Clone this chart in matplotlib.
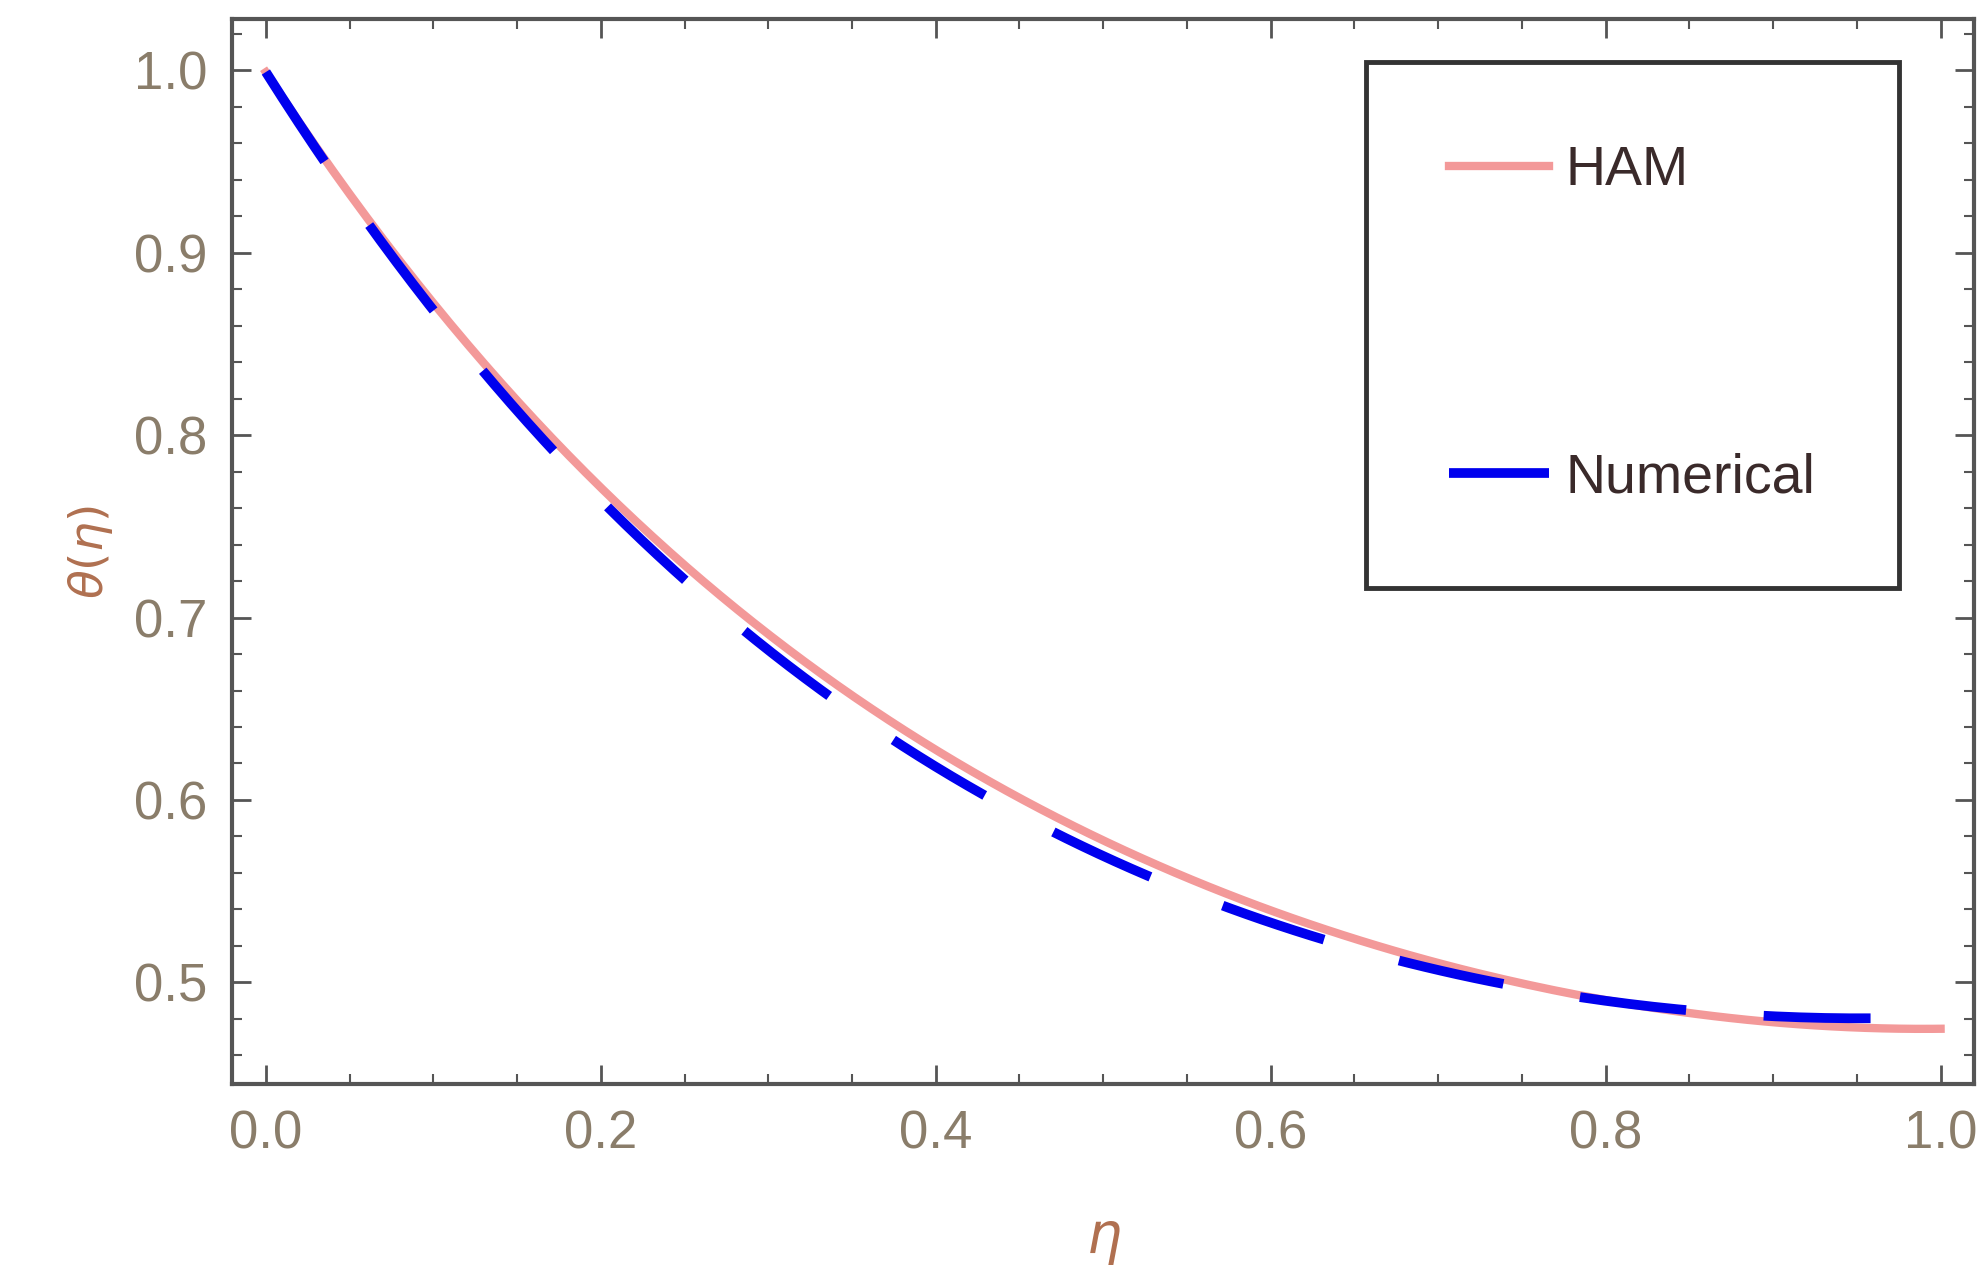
import numpy as np
import matplotlib.pyplot as plt
from matplotlib.ticker import MultipleLocator

plt.rcParams['font.family'] = ['Liberation Sans', 'DejaVu Sans']

eta = [0.0, 0.1, 0.2, 0.3, 0.4, 0.5, 0.6, 0.7, 0.8, 0.9, 1.0]
theta_ham = [1.0, 0.870, 0.772, 0.692, 0.628, 0.578, 0.538, 0.510, 0.491, 0.479, 0.474]
eta_num = [0.0, 0.1, 0.2, 0.3, 0.4, 0.5, 0.6, 0.7, 0.8, 0.9, 0.97]
theta_num = [1.0, 0.866, 0.766, 0.683, 0.618, 0.569, 0.532, 0.507, 0.490, 0.482, 0.480]

fig = plt.figure(figsize=(19.86, 12.88), dpi=100)
ax = fig.add_axes([0.117, 0.158, 0.877, 0.827])

xs = np.linspace(0, 1, 200)
ax.plot(xs, np.polyval(np.polyfit(eta, theta_ham, 4), xs),
        color='#f08080', lw=6, alpha=0.8, label='HAM')
xn = np.linspace(0, 0.97, 200)
ax.plot(xn, np.polyval(np.polyfit(eta_num, theta_num, 4), xn),
        color='#0000ee', lw=7, dashes=(11, 8), label='Numerical')

ax.set_xlim(-0.02, 1.02)
ax.set_ylim(0.444, 1.028)
ax.xaxis.set_major_locator(MultipleLocator(0.2))
ax.xaxis.set_minor_locator(MultipleLocator(0.05))
ax.yaxis.set_major_locator(MultipleLocator(0.1))
ax.yaxis.set_minor_locator(MultipleLocator(0.02))
ax.xaxis.set_major_formatter(plt.FormatStrFormatter('%.1f'))
ax.yaxis.set_major_formatter(plt.FormatStrFormatter('%.1f'))
ax.tick_params(which='both', direction='in', top=True, right=True, color='#555555')
ax.tick_params(which='major', length=14, width=2, labelsize=38, labelcolor='#8a7d6a', pad=18)
ax.tick_params(which='minor', length=7, width=1.5)
for s in ax.spines.values():
    s.set_color('#555555')
    s.set_linewidth(3)

ax.set_xlabel(r'$\eta$', fontsize=40, color='#b07050', labelpad=40)
ax.set_ylabel(r'$\theta(\eta)$', fontsize=34, color='#b07050', labelpad=14)

leg = ax.legend(loc='upper right', bbox_to_anchor=(0.957, 0.96), fontsize=40,
                frameon=True, fancybox=False, edgecolor='black', labelspacing=4.6,
                borderpad=1.5, handlelength=1.8, handletextpad=0.3, borderaxespad=0)
leg.get_frame().set_linewidth(3.5)
for t in leg.get_texts():
    t.set_color('#3a2a2a')

fig.savefig('out.png')
